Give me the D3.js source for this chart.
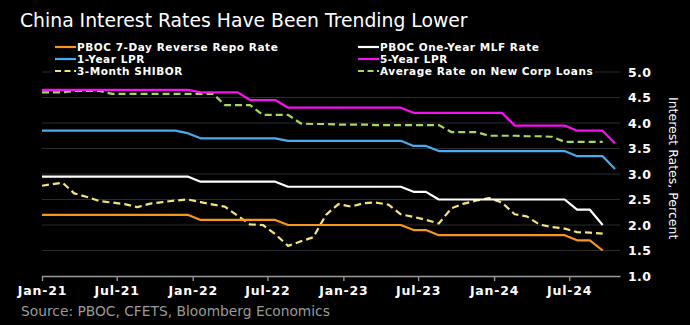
<!DOCTYPE html>
<html>
<head>
<meta charset="utf-8">
<script src="https://cdn.jsdelivr.net/npm/d3@7"></script>
<style>
  body { margin: 0; background: #000; }
  svg { display: block; background: #000; }
  text { font-family: "DejaVu Sans", Verdana, sans-serif; }
</style>
</head>
<body>
<div id="chart"></div>
<script>
// monthly observations, Jan-21 .. Oct-24 (LPR has the extra Oct-24 print)
const startMonth = new Date(2021, 0, 1);
const endMonth = new Date(2024, 9, 1);

const repo7d = [2.2, 2.2, 2.2, 2.2, 2.2, 2.2, 2.2, 2.2, 2.2, 2.2, 2.2, 2.2,
  2.1, 2.1, 2.1, 2.1, 2.1, 2.1, 2.1, 2.0, 2.0, 2.0, 2.0, 2.0,
  2.0, 2.0, 2.0, 2.0, 2.0, 1.9, 1.9, 1.8, 1.8, 1.8, 1.8, 1.8,
  1.8, 1.8, 1.8, 1.8, 1.8, 1.8, 1.7, 1.7, 1.5];

const mlf1y = [2.95, 2.95, 2.95, 2.95, 2.95, 2.95, 2.95, 2.95, 2.95, 2.95, 2.95, 2.95,
  2.85, 2.85, 2.85, 2.85, 2.85, 2.85, 2.85, 2.75, 2.75, 2.75, 2.75, 2.75,
  2.75, 2.75, 2.75, 2.75, 2.75, 2.65, 2.65, 2.5, 2.5, 2.5, 2.5, 2.5,
  2.5, 2.5, 2.5, 2.5, 2.5, 2.5, 2.3, 2.3, 2.0];

const lpr1y = [3.85, 3.85, 3.85, 3.85, 3.85, 3.85, 3.85, 3.85, 3.85, 3.85, 3.85, 3.8,
  3.7, 3.7, 3.7, 3.7, 3.7, 3.7, 3.7, 3.65, 3.65, 3.65, 3.65, 3.65,
  3.65, 3.65, 3.65, 3.65, 3.65, 3.55, 3.55, 3.45, 3.45, 3.45, 3.45, 3.45,
  3.45, 3.45, 3.45, 3.45, 3.45, 3.45, 3.35, 3.35, 3.35, 3.1];

const lpr5y = [4.65, 4.65, 4.65, 4.65, 4.65, 4.65, 4.65, 4.65, 4.65, 4.65, 4.65, 4.65,
  4.6, 4.6, 4.6, 4.6, 4.45, 4.45, 4.45, 4.3, 4.3, 4.3, 4.3, 4.3,
  4.3, 4.3, 4.3, 4.3, 4.3, 4.2, 4.2, 4.2, 4.2, 4.2, 4.2, 4.2,
  4.2, 3.95, 3.95, 3.95, 3.95, 3.95, 3.85, 3.85, 3.85, 3.6];

const shibor3m = [2.77, 2.83, 2.62, 2.55, 2.47, 2.44, 2.41, 2.35, 2.42, 2.45, 2.48, 2.5,
  2.45, 2.4, 2.36, 2.18, 2.01, 2.0, 1.82, 1.59, 1.68, 1.76, 2.2, 2.41,
  2.36, 2.43, 2.44, 2.4, 2.21, 2.16, 2.1, 2.03, 2.33, 2.42, 2.48, 2.53,
  2.44, 2.21, 2.17, 2.01, 1.96, 1.93, 1.86, 1.85, 1.83];

const corpLoans = [4.6, 4.6, 4.63, 4.63, 4.63, 4.57, 4.57, 4.57, 4.57, 4.57, 4.57, 4.57,
  4.57, 4.57, 4.35, 4.35, 4.35, 4.16, 4.16, 4.16, 3.99, 3.98, 3.98, 3.97,
  3.97, 3.97, 3.96, 3.96, 3.96, 3.96, 3.96, 3.96, 3.82, 3.82, 3.82, 3.75,
  3.75, 3.75, 3.74, 3.74, 3.73, 3.63, 3.63, 3.63, 3.63];

const seriesNames = ['PBOC 7-Day Reverse Repo Rate', 'PBOC One-Year MLF Rate',
  '1-Year LPR', '5-Year LPR', '3-Month SHIBOR', 'Average Rate on New Corp Loans'];
const seriesColors = ['#f7951e', '#ffffff', '#48acee', '#f511f0', '#f3e47a', '#a5d85b'];
const seriesDashed = [false, false, false, false, true, true];
const seriesValues = [repo7d, mlf1y, lpr1y, lpr5y, shibor3m, corpLoans];

const yTicks = [1.0, 1.5, 2.0, 2.5, 3.0, 3.5, 4.0, 4.5, 5.0];

// dimensions
const width = 690;
const height = 325;
const PLOT_LEFT = 42;
const PLOT_RIGHT = 620;
const PLOT_TOP = 72;
const PLOT_BOTTOM = 276;

// observation dates: fixings land around the 20th of each month
const dates = d3.timeMonth.range(startMonth, d3.timeMonth.offset(endMonth, 1))
  .map((d, i) => i === 0 ? d : d3.timeDay.offset(d, 19));

const x = d3.scaleTime()
  .domain([startMonth, new Date(2024, 10, 1)])
  .range([PLOT_LEFT, PLOT_RIGHT]);

const y = d3.scaleLinear()
  .domain([1, 5])
  .range([PLOT_BOTTOM, PLOT_TOP]);

const $svg = d3.select('#chart').append('svg')
  .attr('width', width)
  .attr('height', height);

// title
$svg.append('text')
  .attr('x', 20)
  .attr('y', 27)
  .attr('fill', '#fff')
  .attr('font-size', '18.8px')
  .text('China Interest Rates Have Been Trending Lower');

// gridlines
$svg.append('g').attr('class', 'grid')
  .selectAll('line')
  .data(yTicks.filter(d => d > 1))
  .join('line')
  .attr('x1', PLOT_LEFT)
  .attr('x2', PLOT_RIGHT)
  .attr('y1', d => y(d))
  .attr('y2', d => y(d))
  .attr('stroke', '#2b2b2b')
  .attr('stroke-width', 1);

// y axis on the right, no domain/ticks, just labels
const $yAxis = $svg.append('g')
  .attr('class', 'y axis')
  .attr('transform', `translate(${PLOT_RIGHT + 8},0)`)
  .call(d3.axisRight(y).tickValues(yTicks).tickFormat(d3.format('.1f')).tickSize(0))
  .call(g => g.select('.domain').remove());

$yAxis.selectAll('text')
  .attr('x', 0)
  .attr('fill', '#fff')
  .attr('font-size', '12.5px')
  .attr('font-weight', 'bold')
  .attr('font-family', '"DejaVu Sans", sans-serif')
  .attr('letter-spacing', '0.4px');

// x axis
const $xAxis = $svg.append('g')
  .attr('class', 'x axis')
  .attr('transform', `translate(0,${PLOT_BOTTOM})`)
  .call(d3.axisBottom(x)
    .ticks(d3.timeMonth.every(6))
    .tickFormat(d3.timeFormat('%b-%y'))
    .tickSizeInner(5)
    .tickSizeOuter(0));

$xAxis.select('.domain').attr('stroke', '#9a9a9a').attr('stroke-width', 1.3);
$xAxis.selectAll('.tick line').attr('stroke', '#9a9a9a').attr('stroke-width', 1.3);
$xAxis.selectAll('.tick text')
  .attr('y', 10)
  .attr('fill', '#fff')
  .attr('font-size', '12.5px')
  .attr('font-weight', 'bold')
  .attr('font-family', '"DejaVu Sans", sans-serif')
  .attr('letter-spacing', '0.8px');

// y axis title
$svg.append('text')
  .attr('transform', 'translate(669,97) rotate(90)')
  .attr('fill', '#fff')
  .attr('font-size', '12.5px')
  .text('Interest Rates, Percent');

// lines
const line = d3.line()
  .x(d => x(d.date))
  .y(d => y(d.value));

const lineData = seriesValues.map((vals, i) => ({
  name: seriesNames[i],
  color: seriesColors[i],
  dashed: seriesDashed[i],
  values: vals.map((v, j) => ({ date: dates[j], value: v })),
}));

// draw policy rates on top of the dashed market rates, 5y LPR last
const drawOrder = [5, 4, 0, 1, 2, 3];
$svg.append('g').attr('class', 'lines')
  .selectAll('path')
  .data(drawOrder.map(i => lineData[i]))
  .join('path')
  .attr('d', d => line(d.values))
  .attr('fill', 'none')
  .attr('stroke', d => d.color)
  .attr('stroke-width', 2.2)
  .attr('stroke-linejoin', 'round')
  .attr('stroke-dasharray', d => d.dashed ? '7,4' : null);

// legend (black backing hides the 5.0 gridline)
const $legend = $svg.append('g').attr('class', 'legend');
$legend.append('rect')
  .attr('x', 52)
  .attr('y', 40)
  .attr('width', 543)
  .attr('height', 38)
  .attr('fill', '#000');

const legendCols = [55, 358];
const legendRows = [47, 59, 71];
const $items = $legend.selectAll('g.item')
  .data(lineData)
  .join('g')
  .attr('class', 'item')
  .attr('transform', (d, i) => `translate(${legendCols[i % 2]},${legendRows[Math.floor(i / 2)]})`);

$items.append('line')
  .attr('x1', 0)
  .attr('x2', 21)
  .attr('stroke', d => d.color)
  .attr('stroke-width', 2.2)
  .attr('stroke-dasharray', d => d.dashed ? '6,3.5' : null);

$items.append('text')
  .attr('x', 22)
  .attr('dy', '0.36em')
  .attr('fill', '#fff')
  .attr('font-size', '10.5px')
  .attr('font-weight', 'bold')
  .attr('letter-spacing', '0.55px')
  .text(d => d.name);

// source
$svg.append('text')
  .attr('x', 21)
  .attr('y', 316)
  .attr('fill', '#9a9a9a')
  .attr('font-size', '13.8px')
  .text('Source: PBOC, CFETS, Bloomberg Economics');
</script>
</body>
</html>
